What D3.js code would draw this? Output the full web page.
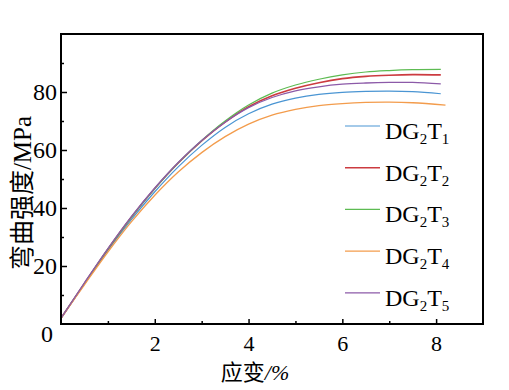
<!DOCTYPE html>
<html><head><meta charset="utf-8">
<script src="https://cdn.jsdelivr.net/npm/d3@7"></script>
<style>
html,body{margin:0;padding:0;background:#fff;}
svg{display:block;}
</style></head>
<body>
<svg id="chart" width="509" height="390"></svg>
<script>
const strainX = [0,0.5,1,1.5,2,2.5,3,3.5,4,4.5,5,5.5,6,6.5,7,7.5,8.1];
const strainX4 = [0,0.5,1,1.5,2,2.5,3,3.5,4,4.5,5,5.5,6,6.5,7,7.5,8.2];
const seriesNames = ["DG2T1","DG2T2","DG2T3","DG2T4","DG2T5"];
const t1 = [2,13.8,25.4,36,45.6,54.2,61.6,67.8,72.5,75.8,77.9,79.2,79.9,80.2,80.3,80.1,79.4];
const t2 = [2,14,25.8,36.8,46.7,55.5,63.1,69.6,74.9,78.7,81.3,83.2,84.6,85.4,85.8,86,85.9];
const t3 = [2,14,25.8,36.8,46.7,55.6,63.3,70,75.5,79.6,82.4,84.4,85.9,86.9,87.4,87.7,87.8];
const t4 = [2,13.5,24.8,35.2,44.4,52.4,59.1,64.6,68.9,72,74,75.3,76,76.4,76.5,76.3,75.5];
const t5 = [2,14.2,26,37,46.9,55.7,63.3,69.6,74.6,78.1,80.4,81.8,82.7,83.1,83.3,83.3,82.8];
const colors = ["#4a95d3","#cc3b40","#5dbb52","#f39c4c","#8c5aa8"];
const xTicks = [2,4,6,8];
const yTicks = [20,40,60,80];

const seriesVals = [t1,t2,t3,t4,t5];
const seriesX = [strainX,strainX,strainX,strainX4,strainX];
const widths = [1.2,1.6,1.2,1.3,1.3];

const svg = d3.select("#chart");
const L=61, R=483, T=34, B=324;
const x = d3.scaleLinear().domain([0,9]).range([L,R]);
const y = d3.scaleLinear().domain([0,100]).range([B,T]);

// curves
const line = d3.line().x(d=>x(d[0])).y(d=>y(d[1])).curve(d3.curveCatmullRom.alpha(0.5));
seriesVals.forEach((vals,i)=>{
  const pts = vals.map((v,j)=>[seriesX[i][j],v]);
  svg.append("path").attr("d",line(pts)).attr("fill","none")
    .attr("stroke",colors[i]).attr("stroke-width",widths[i]);
});

// axes (ticks inward)
const font = "'Liberation Serif','Times New Roman',serif";
const xAxis = d3.axisBottom(x).tickValues(d3.range(1,9,1)).tickSize(-4).tickSizeOuter(0)
  .tickFormat(d=> xTicks.includes(d)? d : "");
const gx = svg.append("g").attr("transform",`translate(0,${B})`).call(xAxis);
gx.selectAll(".tick line").attr("y2",d=> xTicks.includes(d)? -5 : -3).attr("stroke-width",1.5);
gx.selectAll("text").attr("font-family",font).attr("font-size",22).attr("fill","#000").attr("dy","0.95em").attr("y",6);
gx.select(".domain").remove();

const yAxis = d3.axisLeft(y).tickValues(d3.range(10,100,10)).tickSize(-5).tickSizeOuter(0)
  .tickFormat(d=> yTicks.includes(d)? d : "");
const gy = svg.append("g").attr("transform",`translate(${L},0)`).call(yAxis);
gy.selectAll(".tick line").attr("x2",d=> yTicks.includes(d)? 6 : 3).attr("stroke-width",1.5);
gy.selectAll("text").attr("font-family",font).attr("font-size",24).attr("fill","#000").attr("x",-4);
gy.select(".domain").remove();

svg.append("text").attr("x",53).attr("y",342).attr("text-anchor","end")
  .attr("font-family",font).attr("font-size",24).text("0");

// frame
svg.append("rect").attr("x",L).attr("y",T).attr("width",R-L).attr("height",B-T)
  .attr("fill","none").attr("stroke","#000").attr("stroke-width",2);

// axis titles
const xt = svg.append("text").attr("x",255).attr("y",380).attr("text-anchor","middle")
  .attr("font-family",font).attr("font-size",22);
xt.append("tspan").attr("font-family","'Noto Sans CJK SC',serif").text("应变");
xt.append("tspan").attr("font-style","italic").text("/%");

const yt = svg.append("text").attr("transform","translate(31,193) rotate(-90)").attr("text-anchor","middle")
  .attr("font-family",font).attr("font-size",25);
yt.append("tspan").attr("font-family","'Noto Sans CJK SC',serif").text("弯曲强度");
yt.append("tspan").text("/MPa");

// legend
const legY0 = 126, legStep = 41.7;
seriesNames.forEach((name,i)=>{
  const ly = legY0 + i*legStep;
  svg.append("line").attr("x1",345).attr("x2",380).attr("y1",ly).attr("y2",ly)
    .attr("stroke",colors[i]).attr("stroke-width",widths[i]);
  const t = svg.append("text").attr("x",385).attr("y",ly+13).attr("font-family",font).attr("font-size",24);
  t.append("tspan").text("DG");
  t.append("tspan").attr("font-size",15).attr("dy",5).text(name[2]);
  t.append("tspan").attr("dy",-5).text("T");
  t.append("tspan").attr("font-size",15).attr("dy",5).text(name[4]);
});
</script>
</body></html>
